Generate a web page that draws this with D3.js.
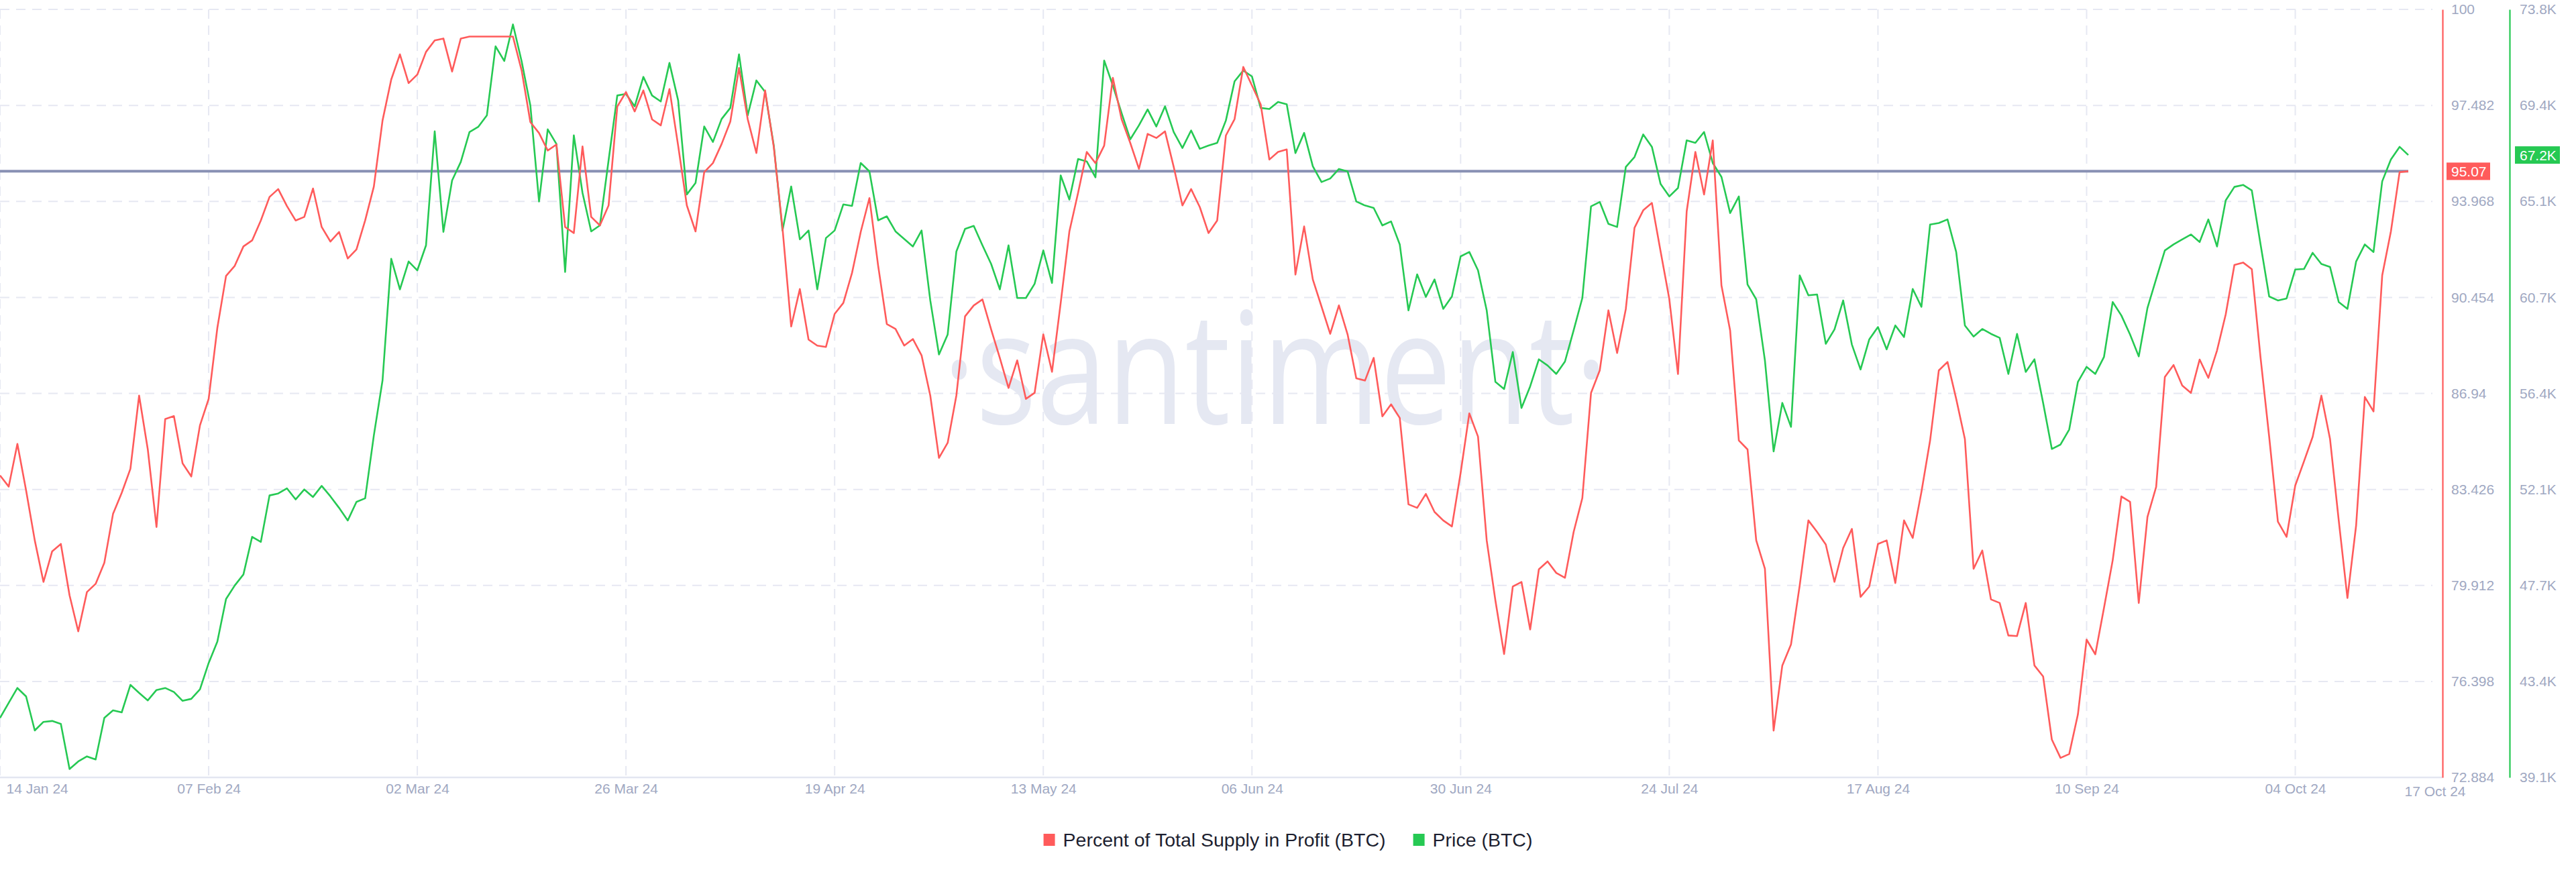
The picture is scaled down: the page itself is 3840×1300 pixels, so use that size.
<!DOCTYPE html>
<html><head><meta charset="utf-8">
<script src="https://cdn.jsdelivr.net/npm/d3@7"></script>
<style>
html,body{margin:0;padding:0;background:#fff;}
svg{display:block;}
</style></head><body>
<svg id="chart" width="3840" height="1300"></svg>
<script>
// ---------- DATA ----------
const startDate = "2024-01-14"; // one point per day
const percentInProfit = [
83.94,83.53,85.09,83.39,81.56,80.04,81.16,81.43,79.55,78.23,
79.67,79.97,80.74,82.53,83.30,84.18,86.86,84.89,82.05,86.00,
86.11,84.38,83.90,85.77,86.74,89.34,91.24,91.61,92.32,92.54,
93.27,94.13,94.42,93.80,93.27,93.40,94.44,93.03,92.50,92.85,
91.88,92.21,93.27,94.51,96.93,98.43,99.35,98.30,98.61,99.44,
99.86,99.93,98.72,99.93,100,100,100,100,100,100,
98.76,96.87,96.47,95.83,96.05,93.03,92.81,95.98,93.40,93.09,
93.82,97.44,97.97,97.26,98.03,96.97,96.75,98.08,96.01,93.82,
92.87,95.04,95.37,96.07,96.89,98.85,96.98,95.74,98.03,95.96,
93.00,89.39,90.76,88.91,88.69,88.64,89.85,90.25,91.35,92.85,
94.09,91.62,89.48,89.30,88.69,88.93,88.33,86.86,84.58,85.13,
86.86,89.76,90.16,90.38,89.28,88.24,87.14,88.15,86.74,86.96,
89.10,87.73,90.25,92.87,94.28,95.78,95.37,96.01,98.49,96.98,
96.11,95.16,96.44,96.29,96.53,95.23,93.82,94.42,93.76,92.81,
93.27,96.38,96.98,98.89,98.21,97.52,95.50,95.78,95.87,91.29,
93.05,91.11,90.12,89.12,90.16,89.10,87.49,87.41,88.24,86.10,
86.54,86.04,82.88,82.75,83.26,82.60,82.29,82.07,84.03,86.21,
85.36,81.56,79.36,77.40,79.87,80.04,78.30,80.50,80.79,80.37,
80.19,81.87,83.11,86.96,87.78,89.98,88.42,90.03,93.00,93.64,
93.91,92.14,90.40,87.65,93.60,95.78,94.22,96.20,90.89,89.24,
85.22,84.89,81.56,80.52,74.60,76.98,77.75,79.91,82.29,81.87,
81.41,80.04,81.28,81.98,79.49,79.87,81.43,81.56,80.00,82.29,
81.65,83.33,85.22,87.78,88.09,86.74,85.27,80.52,81.19,79.40,
79.27,78.08,78.06,79.27,76.98,76.58,74.27,73.60,73.74,75.19,
77.93,77.39,79.09,80.83,83.17,82.97,79.27,82.42,83.52,87.54,
87.98,87.23,86.96,88.18,87.51,88.51,89.83,91.64,91.73,91.49,
88.27,85.35,82.25,81.69,83.57,84.45,85.35,86.86,85.27,82.29,
79.45,82.11,86.81,86.28,91.26,92.87,95.04,95.07
];
const priceK = [
41.79,42.47,43.14,42.76,41.22,41.61,41.65,41.52,39.48,39.82,
40.05,39.91,41.79,42.13,42.04,43.28,42.92,42.58,43.05,43.14,
42.96,42.56,42.65,43.08,44.27,45.24,47.16,47.77,48.27,49.97,
49.74,51.84,51.93,52.16,51.66,52.11,51.77,52.27,51.80,51.28,
50.71,51.55,51.71,54.55,57.04,62.53,61.15,62.41,62.01,63.14,
68.29,63.75,66.07,66.91,68.26,68.49,69.01,72.13,71.47,73.12,
71.45,69.46,65.12,68.38,67.72,61.94,68.11,65.51,63.77,64.04,
66.98,69.91,69.98,69.42,70.75,69.91,69.64,71.38,69.69,65.44,
65.96,68.51,67.81,68.85,69.35,71.77,69.01,70.59,70.07,67.65,
63.81,65.80,63.41,63.81,61.15,63.47,63.81,64.99,64.92,66.86,
66.48,64.27,64.45,63.77,63.43,63.09,63.81,60.65,58.21,59.11,
62.86,63.88,64.02,63.14,62.30,61.15,63.14,60.76,60.76,61.40,
62.91,61.44,66.30,65.21,67.04,66.93,66.21,71.49,70.36,69.12,
67.93,68.56,69.28,68.51,69.42,68.26,67.54,68.33,67.50,67.65,
67.77,68.78,70.55,71.04,70.77,69.35,69.30,69.62,69.51,67.31,
68.22,66.71,66.00,66.16,66.59,66.48,65.12,64.94,64.83,64.04,
64.22,63.18,60.20,61.83,60.81,61.60,60.27,60.83,62.64,62.84,
62.01,60.20,56.97,56.65,58.32,55.79,56.77,57.99,57.71,57.33,
57.89,59.30,60.76,64.90,65.10,64.11,63.97,66.68,67.13,68.15,
67.59,65.91,65.35,65.73,67.88,67.77,68.26,66.86,66.23,64.60,
65.35,61.37,60.70,57.94,53.83,56.02,54.94,61.78,60.88,60.92,
58.69,59.34,60.65,58.66,57.53,58.89,59.45,58.44,59.52,59.00,
61.17,60.36,64.08,64.15,64.31,62.84,59.52,59.02,59.36,59.14,
58.96,57.33,59.14,57.42,57.99,56.02,53.94,54.14,54.82,56.97,
57.65,57.33,58.10,60.58,59.97,59.11,58.12,60.31,61.62,62.91,
63.18,63.41,63.63,63.29,64.31,63.09,65.17,65.78,65.87,65.62,
63.20,60.83,60.65,60.74,62.05,62.07,62.80,62.30,62.16,60.58,
60.27,62.41,63.18,62.84,66.03,67.02,67.59,67.22
];
const xTickDates = ["2024-01-14","2024-02-07","2024-03-02","2024-03-26","2024-04-19","2024-05-13",
  "2024-06-06","2024-06-30","2024-07-24","2024-08-17","2024-09-10","2024-10-04"];
const lastDateLabel = "17 Oct 24";
const redTickValues = [72.884,76.398,79.912,83.426,86.94,90.454,93.968,97.482,100.996];
const redTickLabels = ["72.884","76.398","79.912","83.426","86.94","90.454","93.968","97.482","100"];
const greenTickValues = [39.1,43.4375,47.775,52.1125,56.45,60.7875,65.125,69.4625,73.8];
const greenTickLabels = ["39.1K","43.4K","47.7K","52.1K","56.4K","60.7K","65.1K","69.4K","73.8K"];
const seriesNames = ["Percent of Total Supply in Profit (BTC)", "Price (BTC)"];

// ---------- STYLE / LAYOUT ----------
const RED = "#ff5b5b", GREEN = "#26c953", GRID = "#e6e8f2", LABEL = "#a0a8c2";
const FONT = "'Liberation Sans', Arial, sans-serif";
const TICK_FS = 21;
const plotTop = 14, plotBottom = 1159, plotLeft = 0, dataRight = 3590, redAxisX = 3641, greenAxisX = 3741;

const parse = d3.utcParse("%Y-%m-%d");
const t0 = parse(startDate);
const dates = percentInProfit.map((_, i) => d3.utcDay.offset(t0, i));
const redData = percentInProfit.map((v, i) => ({date: dates[i], v}));
const greenData = priceK.map((v, i) => ({date: dates[i], v}));

const x = d3.scaleUtc().domain([dates[0], dates[dates.length - 1]]).range([plotLeft, dataRight]);
const yRed = d3.scaleLinear().domain([redTickValues[0], redTickValues[8]]).range([plotBottom, plotTop]);
const yGreen = d3.scaleLinear().domain([greenTickValues[0], greenTickValues[8]]).range([plotBottom, plotTop]);

const svg = d3.select("#chart");
svg.append("rect").attr("width", 3840).attr("height", 1300).attr("fill", "#fff");

// watermark
svg.append("text")
  .attr("x", 1405).attr("y", 632)
  .attr("font-family", "'Open Sans', sans-serif").attr("font-size", 232)
  .attr("fill", "#e5e8f2")
  .attr("textLength", 992).attr("lengthAdjust", "spacingAndGlyphs")
  .text("·santiment·");

// grid
const xTicks = xTickDates.map(parse);
svg.append("g").selectAll("line").data(xTicks).join("line")
  .attr("x1", d => x(d)).attr("x2", d => x(d))
  .attr("y1", plotTop).attr("y2", plotBottom)
  .attr("stroke", GRID).attr("stroke-width", 2).attr("stroke-dasharray", "14,10");
svg.append("g").selectAll("line").data(redTickValues.slice(1)).join("line")
  .attr("x1", plotLeft).attr("x2", 3626)
  .attr("y1", d => yRed(d)).attr("y2", d => yRed(d))
  .attr("stroke", GRID).attr("stroke-width", 2).attr("stroke-dasharray", "14,10");

// x axis
svg.append("line").attr("x1", plotLeft).attr("x2", redAxisX).attr("y1", plotBottom).attr("y2", plotBottom)
  .attr("stroke", "#e3e6f1").attr("stroke-width", 2.5);
const fmt = d3.utcFormat("%d %b %y");
const xAxis = svg.append("g").attr("transform", `translate(0,${plotBottom})`)
  .call(d3.axisBottom(x).tickValues(xTicks).tickFormat(fmt).tickSize(0).tickPadding(9));
xAxis.select(".domain").remove();
xAxis.selectAll("text").attr("font-family", FONT).attr("font-size", TICK_FS).attr("fill", LABEL)
  .attr("text-anchor", (d, i) => i === 0 ? "start" : "middle")
  .attr("dx", (d, i) => i === 0 ? 9 : 0);
svg.append("text").attr("x", x(dates[dates.length - 1]) + 40).attr("y", plotBottom + 28)
  .attr("text-anchor", "middle").attr("font-family", FONT).attr("font-size", TICK_FS).attr("fill", LABEL)
  .text(lastDateLabel);

// reference line at last percent value
const lastRed = percentInProfit[percentInProfit.length - 1];
const lastGreen = priceK[priceK.length - 1];
svg.append("line").attr("x1", plotLeft).attr("x2", dataRight)
  .attr("y1", yRed(lastRed)).attr("y2", yRed(lastRed))
  .attr("stroke", "#8991b4").attr("stroke-width", 4);

// series lines
const lineR = d3.line().x(d => x(d.date)).y(d => yRed(d.v));
const lineG = d3.line().x(d => x(d.date)).y(d => yGreen(d.v));
svg.append("path").datum(greenData).attr("d", lineG).attr("fill", "none")
  .attr("stroke", GREEN).attr("stroke-width", 2.6).attr("stroke-linejoin", "round");
svg.append("path").datum(redData).attr("d", lineR).attr("fill", "none")
  .attr("stroke", RED).attr("stroke-width", 2.6).attr("stroke-linejoin", "round");

// right axes
function styleAxis(g, color) {
  g.select(".domain").attr("stroke", color).attr("stroke-width", 2.2);
  g.selectAll("text").attr("font-family", FONT).attr("font-size", TICK_FS).attr("fill", LABEL)
    .attr("text-anchor", "start");
}
const gR = svg.append("g").attr("transform", `translate(${redAxisX},0)`)
  .call(d3.axisRight(yRed).tickValues(redTickValues).tickFormat((d, i) => redTickLabels[i]).tickSize(0).tickSizeOuter(0).tickPadding(13));
styleAxis(gR, RED);
const gG = svg.append("g").attr("transform", `translate(${greenAxisX},0)`)
  .call(d3.axisRight(yGreen).tickValues(greenTickValues).tickFormat((d, i) => greenTickLabels[i]).tickSize(0).tickSizeOuter(0).tickPadding(15));
styleAxis(gG, GREEN);

// value badges
function badge(xPos, yPos, w, color, txt) {
  svg.append("rect").attr("x", xPos).attr("y", yPos - 13).attr("width", w).attr("height", 26).attr("fill", color);
  svg.append("text").attr("x", xPos + 7).attr("y", yPos).attr("dy", "0.36em")
    .attr("font-family", FONT).attr("font-size", TICK_FS).attr("fill", "#fff").text(txt);
}
badge(redAxisX + 6, yRed(lastRed), 65, RED, d3.format(".2f")(lastRed));
badge(greenAxisX + 8, yGreen(lastGreen), 67, GREEN, d3.format(".1f")(lastGreen) + "K");

// legend
const leg = svg.append("g");
const items = [{name: seriesNames[0], color: RED}, {name: seriesNames[1], color: GREEN}];
let cx = 0;
const legY = 1252;
items.forEach((it, i) => {
  leg.append("rect").attr("x", cx).attr("y", legY - 9).attr("width", 17).attr("height", 18).attr("fill", it.color);
  cx += 17 + 12;
  const t = leg.append("text").attr("x", cx).attr("y", legY).attr("dy", "0.36em")
    .attr("font-family", FONT).attr("font-size", 28.5).attr("fill", "#1d1f30").text(it.name);
  cx += t.node().getComputedTextLength();
  if (i === 0) cx += 41;
});
leg.attr("transform", `translate(${1920 - cx / 2},0)`);
</script>
</body></html>
